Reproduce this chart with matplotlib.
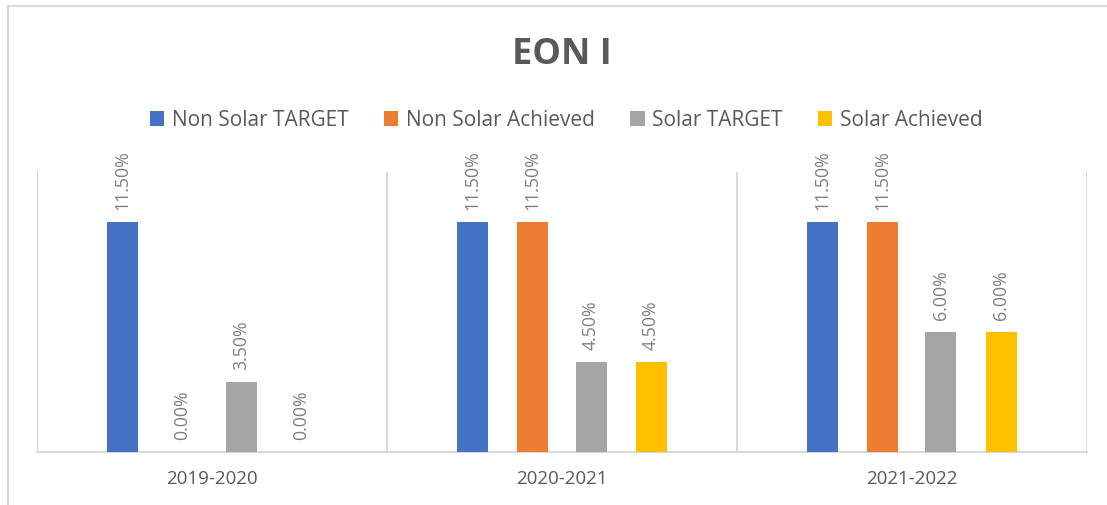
import matplotlib
matplotlib.use("Agg")
import matplotlib.pyplot as plt
from matplotlib.lines import Line2D
from matplotlib.patches import Patch
import numpy as np

categories = ["2019-2020", "2020-2021", "2021-2022"]
series_names = ["Non Solar TARGET", "Non Solar Achieved", "Solar TARGET", "Solar Achieved"]
non_solar_target = [11.5, 11.5, 11.5]
non_solar_achieved = [0.0, 11.5, 11.5]
solar_target = [3.5, 4.5, 6.0]
solar_achieved = [0.0, 4.5, 6.0]
colors = ["#4472C4", "#ED7D31", "#A5A5A5", "#FFC000"]

series = [non_solar_target, non_solar_achieved, solar_target, solar_achieved]

plt.rcParams['font.family'] = ['Open Sans', 'DejaVu Sans']

W, H = 1107, 506
fig = plt.figure(figsize=(W / 100, H / 100), dpi=100)
ax = fig.add_axes([37 / W, (H - 453) / H, 1050 / W, 280 / H])

x = np.arange(len(categories))
bw = 31 / 350
offsets = [-90 / 350, -30 / 350, 29 / 350, 89 / 350]
for vals, off, c, name in zip(series, offsets, colors, series_names):
    bars = ax.bar(x + off, vals, width=bw, color=c, label=name, zorder=3)
    ax.bar_label(bars, labels=[f"{v:.2f}%" for v in vals], rotation=90,
                 padding=9, color="#7F7F7F", fontsize=12.8)

ax.set_xlim(-0.5, len(categories) - 0.5)
ax.set_ylim(0, 14)
ax.set_yticks([])
ax.set_xticks(x)
ax.set_xticklabels(categories, color="#595959", fontsize=13.5)
ax.tick_params(axis="x", length=0, pad=12)
for s in ["top", "right", "left"]:
    ax.spines[s].set_visible(False)
ax.spines["bottom"].set_color("#D9D9D9")
ax.spines["bottom"].set_linewidth(1.5)
for b in np.arange(-0.5, len(categories), 1.0):
    ax.axvline(b, color="#D9D9D9", linewidth=1.5, zorder=1)

fig.text(562 / W, 1 - 55 / H, "EON I", ha="center", va="center",
         fontsize=26, fontweight="bold", color="#595959")

handles = [Patch(facecolor=c, edgecolor="none") for c in colors]
leg = fig.legend(handles, series_names, loc="center", bbox_to_anchor=(566 / W, 1 - 121 / H),
                 ncol=4, frameon=False, fontsize=15, handlelength=0.7, handleheight=0.7,
                 handletextpad=0.35, columnspacing=1.7, labelcolor="#595959")

fig.add_artist(Line2D([8 / W, 8 / W], [0, 1 - 7 / H], color="#D9D9D9", linewidth=1.5))
fig.add_artist(Line2D([8 / W, 1], [1 - 7 / H, 1 - 7 / H], color="#D9D9D9", linewidth=1.5))

fig.savefig("out.png", dpi=100, facecolor="white")
